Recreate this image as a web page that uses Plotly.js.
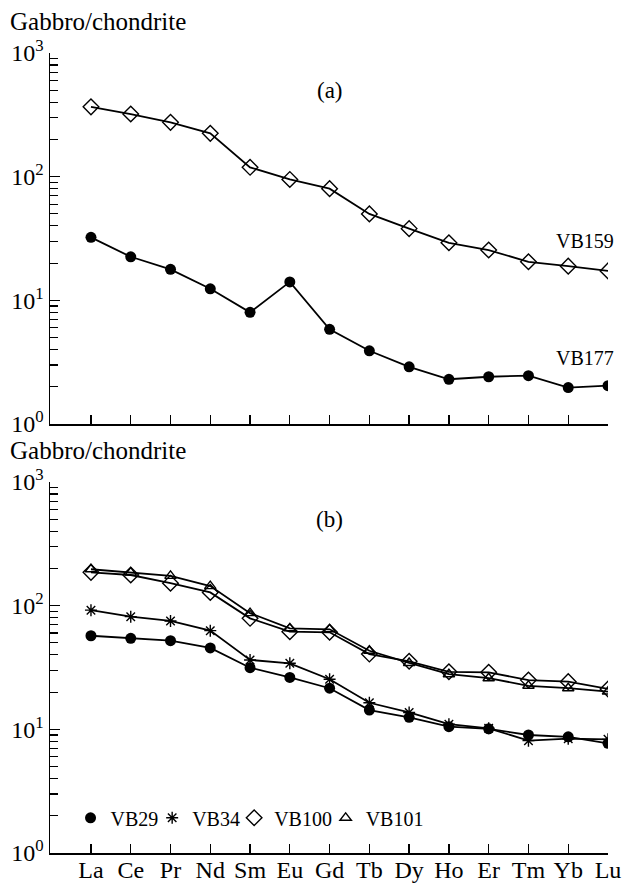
<!DOCTYPE html>
<html>
<head>
<meta charset="utf-8">
<script src="https://cdn.plot.ly/plotly-3.0.1.min.js"></script>
<style>html,body{margin:0;padding:0;background:#fff;}#chart{width:624px;height:886px;}</style>
</head>
<body>
<div id="chart"></div>
<script>
// Chondrite-normalised REE data
const elements = ['La','Ce','Pr','Nd','Sm','Eu','Gd','Tb','Dy','Ho','Er','Tm','Yb','Lu'];
// panel (a)
const vb159 = [367,321,275,224,119,95,80,50,38,29.2,25.5,20.5,18.9,17.3];
const vb177 = [32.3,22.5,17.8,12.4,8.0,14.1,5.83,3.91,2.90,2.30,2.41,2.46,1.97,2.04];
// panel (b)
const vb29  = [57.1,54.5,52.1,45.5,31.5,26.3,21.5,14.3,12.5,10.5,10.1,9.0,8.7,7.7];
const vb34  = [92,81.5,75.2,62.8,36.4,34.2,25.4,16.4,13.7,11.0,10.2,8.1,8.4,8.3];
const vb100 = [186,177,152,128,79,61.6,60.9,40.6,35.5,29.2,28.9,25.0,24.3,21.2];
const vb101 = [197,185,174,144,87,65.6,64.4,43.2,34.4,27.9,25.9,22.5,21.5,20.2];
const seriesNamesB = ['VB29','VB34','VB100','VB101'];
const yTickVals = [1,10,100,1000];
const yTickText = ['10<sup>0</sup>','10<sup>1</sup>','10<sup>2</sup>','10<sup>3</sup>'];
const yMinorVals = [2,3,4,5,6,7,8,9,20,30,40,50,60,70,80,90,200,300,400,500,600,700,800,900];

const FONT = 'Liberation Serif';
const LW = 1.8;

function lineTrace(y, xa, ya){
  return {x: elements, y: y, xaxis: xa, yaxis: ya, mode: 'lines', showlegend: false,
          line: {color: '#000', width: LW}, hoverinfo: 'skip'};
}
function markerTrace(y, xa, ya, name, symbol, size, show, legendId){
  const open = symbol.indexOf('open') >= 0;
  const t = {x: elements, y: y, xaxis: xa, yaxis: ya, mode: 'markers', name: name, showlegend: show,
          marker: {symbol: symbol, size: size, color: '#000',
                   line: {color: '#000', width: open ? 1.4 : 0}}};
  if (legendId) t.legend = legendId;
  return t;
}

const styleB = [
  ['circle', 11],
  ['asterisk-open', 10],
  ['diamond-open', 12],
  ['triangle-up-open', 10]
];
const dataB = [vb29, vb34, vb100, vb101];
const legendIds = ['legend','legend2','legend3','legend4'];
const legendX = [0.0368, 0.1831, 0.3300, 0.4940];

const traces = [
  lineTrace(vb159,'x','y'), markerTrace(vb159,'x','y','VB159','diamond-open',12,false),
  lineTrace(vb177,'x','y'), markerTrace(vb177,'x','y','VB177','circle',11,false)
];
dataB.forEach((d,i)=>{ traces.push(lineTrace(d,'x2','y2')); });
dataB.forEach((d,i)=>{ traces.push(markerTrace(d,'x2','y2',seriesNamesB[i],styleB[i][0],styleB[i][1],true,legendIds[i])); });

function xAxis(anchor, showLabels){
  return {anchor: anchor, type: 'category', range: [-1.03, 13], domain: [0,1],
          showline: true, linecolor: '#000', linewidth: 1.5, mirror: false,
          showgrid: false, zeroline: false,
          ticks: 'inside', ticklen: 9, tickwidth: 1.3, tickcolor: '#000',
          ticklabelstandoff: -5,
          showticklabels: showLabels, tickfont: {family: FONT, size: 24, color: '#000'}};
}
function yAxis(anchor, domain){
  return {anchor: anchor, type: 'log', range: [0, 3], domain: domain,
          showline: true, linecolor: '#000', linewidth: 1.5, mirror: false,
          showgrid: false, zeroline: false,
          tickmode: 'array', tickvals: yTickVals, ticktext: yTickText,
          ticks: 'inside', ticklen: 10, tickwidth: 1.3, tickcolor: '#000',
          minor: {tickmode: 'array', tickvals: yMinorVals, ticks: 'inside', ticklen: 8, tickwidth: 1.2, tickcolor: '#000', showgrid: false},
          tickfont: {family: FONT, size: 24, color: '#000'}};
}

const layout = {
  width: 624, height: 886,
  margin: {l: 50, r: 16, t: 53, b: 33},
  paper_bgcolor: '#fff', plot_bgcolor: '#fff',
  font: {family: FONT, color: '#000'},
  showlegend: true,
  xaxis: xAxis('y', false),
  yaxis: yAxis('x', [0.53625, 1]),
  xaxis2: xAxis('y2', true),
  yaxis2: yAxis('x2', [0, 0.46375]),
  annotations: [
    {text: 'Gabbro/chondrite', xref: 'paper', yref: 'paper', x: -0.0754, y: 1.03875, xanchor: 'left', yanchor: 'middle', showarrow: false, font: {family: FONT, size: 25, color: '#000'}},
    {text: 'Gabbro/chondrite', xref: 'paper', yref: 'paper', x: -0.0754, y: 0.50375, xanchor: 'left', yanchor: 'middle', showarrow: false, font: {family: FONT, size: 25, color: '#000'}},
    {text: '(a)', xref: 'x', yref: 'y', x: 6, y: 2.70, xanchor: 'center', yanchor: 'middle', showarrow: false, font: {family: FONT, size: 23, color: '#000'}},
    {text: '(b)', xref: 'x2', yref: 'y2', x: 6, y: 2.70, xanchor: 'center', yanchor: 'middle', showarrow: false, font: {family: FONT, size: 23, color: '#000'}},
    {text: 'VB159', xref: 'paper', yref: 'y', x: 1.014, y: 1.48, xanchor: 'right', yanchor: 'middle', showarrow: false, font: {family: FONT, size: 20, color: '#000'}},
    {text: 'VB177', xref: 'paper', yref: 'y', x: 1.014, y: 0.534, xanchor: 'right', yanchor: 'middle', showarrow: false, font: {family: FONT, size: 20, color: '#000'}}
  ]
};
legendIds.forEach((id,i)=>{
  layout[id] = {orientation: 'h', x: legendX[i], xanchor: 'left', y: 0.044, yanchor: 'middle',
                font: {family: FONT, size: 20, color: '#000'}, bgcolor: 'rgba(0,0,0,0)',
                itemwidth: 30, borderwidth: 0};
});

Plotly.newPlot('chart', traces, layout, {displayModeBar: false, staticPlot: true});
</script>
</body>
</html>
